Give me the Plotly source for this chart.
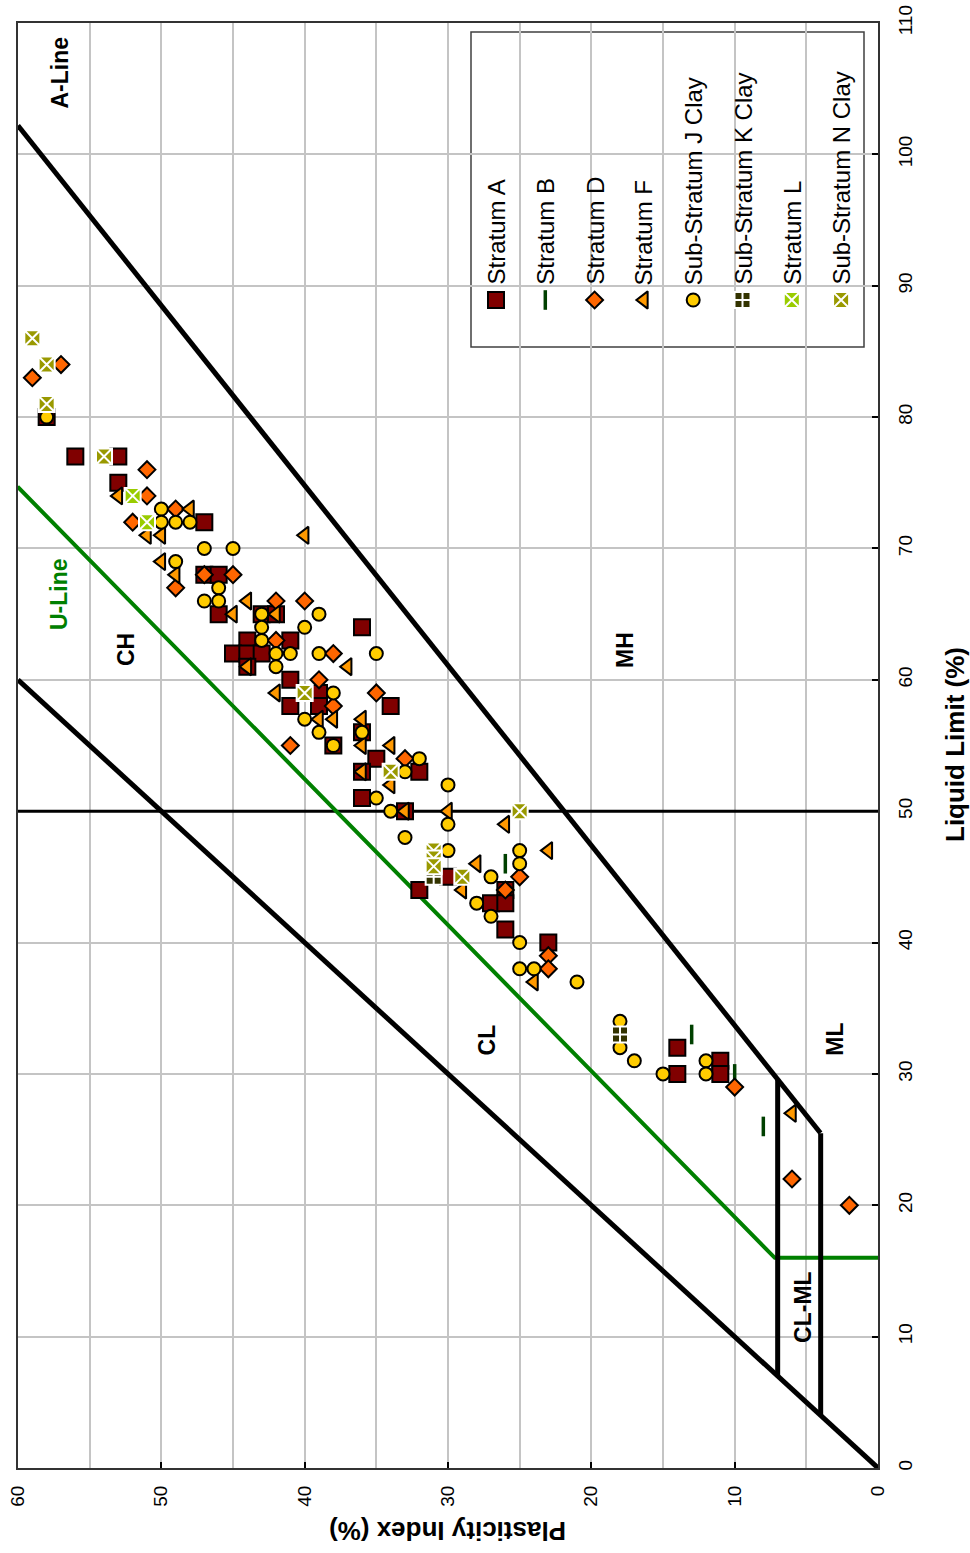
import plotly.graph_objects as go

# ---------------- data (PI = plasticity index, LL = liquid limit) ----------------
strat_a_pi = [58, 56, 53, 53, 47, 47, 46, 46, 43, 42, 36, 44, 41, 45, 44, 43, 44, 41, 39, 41, 39, 34, 36, 38, 35, 36, 32, 36, 33, 30, 32, 26, 27, 26, 26, 23, 14, 14, 11, 11]
strat_a_ll = [80, 77, 77, 75, 72, 68, 68, 65, 65, 65, 64, 63, 63, 62, 62, 62, 61, 60, 59, 58, 58, 58, 56, 55, 54, 53, 53, 51, 50, 45, 44, 44, 43, 43, 41, 40, 32, 30, 31, 30]

strat_b_pi = [26, 13, 10, 8]
strat_b_ll = [46, 33, 30, 26]

strat_d_pi = [59, 57, 51, 51, 49, 52, 47, 45, 49, 42, 40, 42, 38, 39, 35, 38, 41, 33, 26, 25, 23, 23, 10, 6, 2]
strat_d_ll = [83, 84, 76, 74, 73, 72, 68, 68, 67, 66, 66, 63, 62, 60, 59, 58, 55, 54, 44, 45, 39, 38, 29, 22, 20]

strat_f_pi = [53, 48, 51, 50, 40, 50, 49, 44, 45, 42, 44, 37, 42, 39, 38, 36, 36, 34, 36, 34, 33, 30, 26, 28, 23, 29, 24, 6]
strat_f_ll = [74, 73, 71, 71, 71, 69, 68, 66, 65, 65, 61, 61, 59, 57, 57, 57, 55, 55, 53, 52, 50, 50, 49, 46, 47, 44, 37, 27]

sub_j_pi = [58, 50, 50, 49, 48, 47, 45, 49, 46, 47, 46, 43, 39, 43, 40, 43, 42, 41, 39, 35, 42, 38, 40, 39, 36, 38, 32, 33, 30, 35, 34, 30, 33, 30, 25, 25, 27, 28, 27, 25, 25, 24, 21, 18, 18, 17, 15, 12, 12]
sub_j_ll = [80, 73, 72, 72, 72, 70, 70, 69, 67, 66, 66, 65, 65, 64, 64, 63, 62, 62, 62, 62, 61, 59, 57, 56, 56, 55, 54, 53, 52, 51, 50, 49, 48, 47, 47, 46, 45, 43, 42, 40, 38, 38, 37, 34, 32, 31, 30, 31, 30]

sub_k_pi = [31, 18]
sub_k_ll = [45, 33]

strat_l_pi = [52, 51]
strat_l_ll = [74, 72]

sub_n_pi = [59, 58, 58, 54, 40, 34, 31, 31, 31, 29, 25]
sub_n_ll = [86, 84, 81, 77, 59, 53, 47, 46.4, 45.8, 45, 50]

series_names = ["Stratum A", "Stratum B", "Stratum D", "Stratum F",
                "Sub-Stratum J Clay", "Sub-Stratum K Clay", "Stratum L", "Sub-Stratum N Clay"]

pi_ticks = [0, 10, 20, 30, 40, 50, 60]
ll_ticks = [0, 10, 20, 30, 40, 50, 60, 70, 80, 90, 100, 110]

# chart reference lines (classification chart)
aline_ll = [25.5, 102.2]          # A-line: PI = 0.73 (LL - 20)
uline_ll = [16.0, 74.7]           # U-line: PI = 0.9 (LL - 8)
pi_eq_ll = [0, 60]                # PI = LL boundary
clml_pi = [4, 7]                  # CL-ML band limits

# ---------------- styles ----------------
styles = [
    dict(symbol="square", size=16, color="#800000", line=dict(color="black", width=2)),
    dict(symbol="line-ns", size=14, color="#004000", line=dict(color="#004000", width=3.5)),
    dict(symbol="diamond", size=13, color="#FF6600", line=dict(color="black", width=2)),
    dict(symbol="triangle-left", size=15, color="#FF9900", line=dict(color="black", width=2)),
    dict(symbol="circle", size=13, color="#FFCC00", line=dict(color="black", width=2)),
    dict(symbol="square-cross", size=16, color="#333300", line=dict(color="white", width=2)),
    dict(symbol="square-x", size=16, color="#99CC00", line=dict(color="white", width=2)),
    dict(symbol="square-x", size=16, color="#999900", line=dict(color="white", width=2)),
]
data_series = [(strat_a_pi, strat_a_ll), (strat_b_pi, strat_b_ll), (strat_d_pi, strat_d_ll),
               (strat_f_pi, strat_f_ll), (sub_j_pi, sub_j_ll), (sub_k_pi, sub_k_ll),
               (strat_l_pi, strat_l_ll), (sub_n_pi, sub_n_ll)]

fig = go.Figure()

BLACK = "black"
GREEN = "#008000"

def add_line(x, y, color, width):
    fig.add_trace(go.Scatter(x=x, y=y, mode="lines", line=dict(color=color, width=width),
                             hoverinfo="skip", showlegend=False))

# A-line
add_line([0.73 * (v - 20) for v in aline_ll], aline_ll, BLACK, 5)
# PI = LL
add_line(pi_eq_ll, pi_eq_ll, BLACK, 5)
# LL = 50
add_line([0, 60], [50, 50], BLACK, 3)
# U-line with vertical foot at LL=16
u_pi = [0.9 * (v - 8) for v in uline_ll]
add_line([0] + u_pi, [uline_ll[0]] + uline_ll, GREEN, 4)
# CL-ML band
for p in clml_pi:
    add_line([p, p], [p, 20 + p / 0.73], BLACK, 5)

# data series
for (px, ll), st, name in zip(data_series, styles, series_names):
    fig.add_trace(go.Scatter(
        x=px, y=ll, mode="markers", name=name, showlegend=False,
        marker=dict(symbol=st["symbol"], size=st["size"], color=st["color"], line=st["line"])))

# ---------------- geometry (page pixels; body margin removed in post_script) ----------------
FIG_W, FIG_H = 970, 1553
L, R, T, B = 18, 878, 23, 1468
W, H = R - L, B - T
def px2x(p): return (p - L) / W
def py2y(p): return (B - p) / H

leg_x0, leg_step = 496, 49.3
leg_marker_y = py2y(300)
leg_text_y = py2y(287)
leg_x = [px2x(leg_x0 + i * leg_step) for i in range(len(series_names))]
for i, (st, name) in enumerate(zip(styles, series_names)):
    fig.add_trace(go.Scatter(
        x=[leg_x[i]], y=[leg_marker_y], xaxis="x2", yaxis="y2", mode="markers",
        showlegend=False, hoverinfo="skip",
        marker=dict(symbol=st["symbol"], size=st["size"], color=st["color"], line=st["line"])))

annotations = []
for i, name in enumerate(series_names):
    annotations.append(dict(x=leg_x[i], y=leg_text_y, xref="paper", yref="paper",
                            text=name, showarrow=False, textangle=-90,
                            xanchor="center", yanchor="bottom",
                            font=dict(family="Liberation Sans, Arial", size=24, color="black")))

# region labels (data coordinates)
labels = [("A-Line", 57.1, 106.2, "black"), ("U-Line", 57.1, 66.5, GREEN),
          ("CH", 52.5, 62.3, "black"), ("CL", 27.3, 32.6, "black"),
          ("MH", 17.7, 62.3, "black"), ("ML", 3.0, 32.6, "black"),
          ("CL-ML", 5.2, 12.3, "black")]
for t, x, y, c in labels:
    annotations.append(dict(x=x, y=y, xref="x", yref="y", text="<b>%s</b>" % t,
                            showarrow=False, textangle=-90,
                            xanchor="center", yanchor="middle",
                            font=dict(family="Liberation Sans, Arial", size=23, color=c)))

# axis titles
annotations.append(dict(x=px2x(955), y=py2y(745), xref="paper", yref="paper",
                        text="<b>Liquid Limit (%)</b>", showarrow=False, textangle=-90,
                        xanchor="center", yanchor="middle",
                        font=dict(family="Liberation Sans, Arial", size=26, color="black")))
annotations.append(dict(x=px2x(448), y=py2y(1531), xref="paper", yref="paper",
                        text="<b>Plasticity Index (%)</b>", showarrow=False, textangle=180,
                        xanchor="center", yanchor="middle",
                        font=dict(family="Liberation Sans, Arial", size=26, color="black")))

shapes = [dict(type="rect", xref="paper", yref="paper",
               x0=px2x(471), x1=px2x(864), y0=py2y(347), y1=py2y(32),
               line=dict(color="#404040", width=1.5), fillcolor="white", layer="below")]

fig.update_layout(
    width=FIG_W, height=FIG_H,
    margin=dict(l=L, r=FIG_W - R, t=T, b=FIG_H - B, autoexpand=False),
    paper_bgcolor="white", plot_bgcolor="white",
    showlegend=False,
    font=dict(family="Liberation Sans, Arial", size=19, color="black"),
    xaxis=dict(range=[60, 0], tickvals=pi_ticks, tickangle=-90,
               ticklabeloverflow="allow", ticklabelstandoff=8,
               showgrid=True, gridcolor="#c4c4c4", gridwidth=2,
               minor=dict(dtick=5, showgrid=True, gridcolor="#c4c4c4", gridwidth=2, ticks=""),
               ticks="inside", ticklen=6, tickwidth=2, tickcolor="black",
               showline=True, linecolor="#333333", linewidth=2, mirror=True,
               zeroline=False, fixedrange=True, automargin=False),
    yaxis=dict(range=[0, 110], tickvals=ll_ticks, side="right", tickangle=-90,
               ticklabeloverflow="allow", ticklabelstandoff=9,
               showgrid=True, gridcolor="#c4c4c4", gridwidth=2,
               ticks="inside", ticklen=6, tickwidth=2, tickcolor="black",
               showline=True, linecolor="#333333", linewidth=2, mirror=True,
               zeroline=False, fixedrange=True, automargin=False),
    xaxis2=dict(overlaying="x", range=[0, 1], visible=False, fixedrange=True),
    yaxis2=dict(overlaying="y", range=[0, 1], visible=False, fixedrange=True),
    annotations=annotations,
    shapes=shapes,
)

fig.write_html("out.html", config={"displayModeBar": False},
               post_script="document.body.style.margin='0';document.body.style.padding='0';")
